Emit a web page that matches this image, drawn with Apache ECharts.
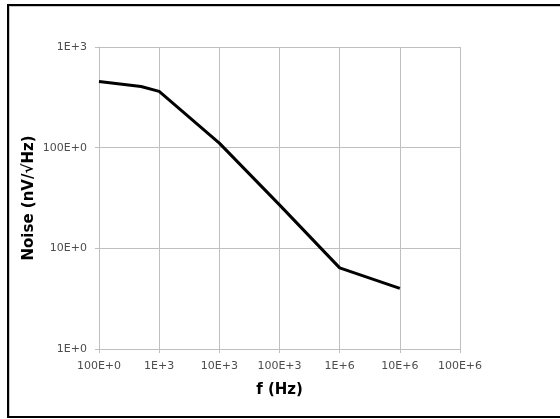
<!DOCTYPE html>
<html>
<head>
<meta charset="utf-8">
<script src="https://cdn.jsdelivr.net/npm/echarts@6/dist/echarts.min.js"></script>
<style>
  html, body { margin: 0; padding: 0; background: #fff; }
  #chart { position: absolute; left: 0; top: 0; width: 560px; height: 419px; }
  #frame { position: absolute; left: 7px; top: 4px; width: 600px; height: 410px;
           border: 2px solid #000; box-shadow: inset 1px 1px 0 #c8c8c8; pointer-events: none; }
</style>
</head>
<body>
<div id="chart"></div>
<div id="frame"></div>
<script>
// Frequency (Hz) and noise density (nV/sqrt(Hz))
const freq  = [100, 500, 1000, 10000, 100000, 1000000, 10000000];
const noise = [455, 405, 362, 111, 27, 6.4, 4.0];
const xTicks = ['100E+0', '1E+3', '10E+3', '100E+3', '1E+6', '10E+6', '100E+6'];
const yTicks = ['1E+0', '10E+0', '100E+0', '1E+3'];
const xTitle = 'f (Hz)';
const yTitle = 'Noise (nV/\u221AHz)';

function fmt(v, list, base) {
  const i = Math.round(Math.log10(v)) - base;
  return list[i] !== undefined ? list[i] : '';
}

const chart = echarts.init(document.getElementById('chart'));
const labelFont = { fontFamily: 'DejaVu Sans', fontSize: 11, color: '#4d4d4d' };
chart.setOption({
  animation: false,
  grid: { left: 99, right: 100, top: 47, bottom: 70 },
  xAxis: {
    type: 'log', logBase: 10, min: 100, max: 100000000,
    name: xTitle, nameLocation: 'middle', nameGap: 34, nameMoveOverlap: false,
    nameTextStyle: { fontFamily: 'DejaVu Sans', fontWeight: 'bold', fontSize: 15, color: '#000' },
    axisLine: { lineStyle: { color: '#bfbfbf', width: 1 } },
    axisTick: { show: true, length: 4, lineStyle: { color: '#bfbfbf' } },
    minorTick: { show: false },
    splitLine: { show: true, lineStyle: { color: '#bfbfbf', width: 1 } },
    axisLabel: Object.assign({ margin: 12, formatter: v => fmt(v, xTicks, 2) }, labelFont)
  },
  yAxis: {
    type: 'log', logBase: 10, min: 1, max: 1000,
    name: yTitle, nameLocation: 'middle', nameGap: 62, nameRotate: 90, nameMoveOverlap: false,
    nameTextStyle: { fontFamily: 'DejaVu Sans', fontWeight: 'bold', fontSize: 15, color: '#000' },
    axisLine: { show: true, lineStyle: { color: '#bfbfbf', width: 1 } },
    axisTick: { show: true, length: 4, lineStyle: { color: '#bfbfbf' } },
    splitLine: { show: true, lineStyle: { color: '#bfbfbf', width: 1 } },
    axisLabel: Object.assign({ margin: 12, formatter: v => fmt(v, yTicks, 0) }, labelFont)
  },
  series: [{
    type: 'line',
    data: freq.map((f, i) => [f, noise[i]]),
    showSymbol: false,
    symbol: 'none',
    lineStyle: { color: '#000', width: 3 },
    clip: false
  }]
});
</script>
</body>
</html>
